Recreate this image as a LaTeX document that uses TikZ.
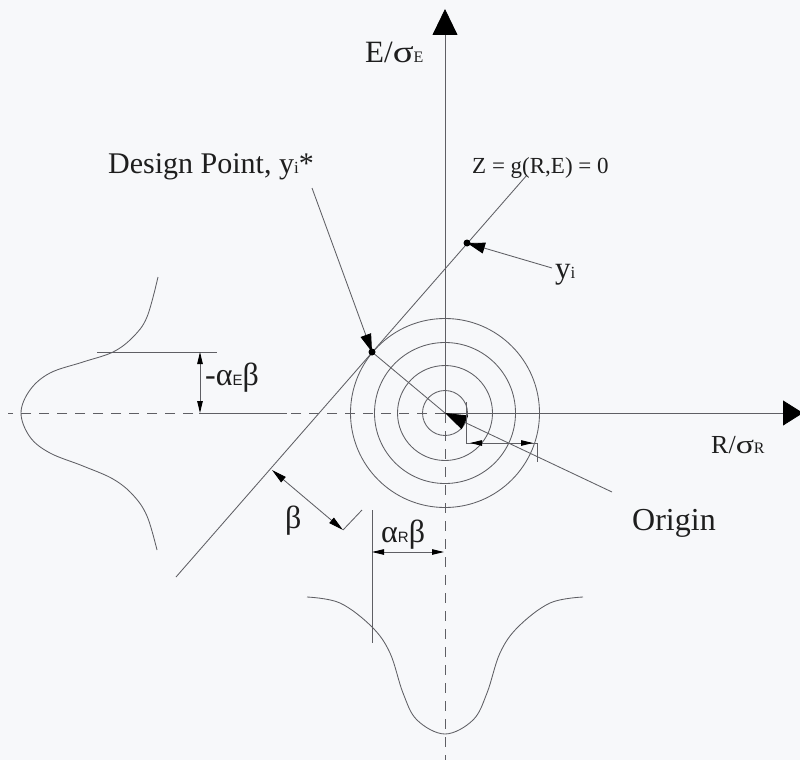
\documentclass[tikz,border=0pt]{standalone}
\usepackage{fontspec}
\setmainfont{Liberation Serif}
\newfontfamily\sansf{Liberation Sans}
\usetikzlibrary{arrows.meta}
\definecolor{bgc}{RGB}{247,248,250}
\definecolor{ln}{RGB}{95,95,100}
\definecolor{txt}{RGB}{30,30,30}
\newcommand{\fs}[1]{\fontsize{#1}{#1}\selectfont}
\begin{document}
\begin{tikzpicture}[x=1pt,y=-1pt,
  lin/.style={draw=ln, line width=0.85pt},
  dsh/.style={lin, dash pattern=on 10pt off 8pt},
  bigtip/.style={-{Triangle[length=18pt,width=11pt,color=black]}},
  dimarr/.style={{Triangle[length=12pt,width=5.5pt,color=black]}-{Triangle[length=12pt,width=5.5pt,color=black]}},
  betaarr/.style={{Triangle[length=15pt,width=7pt,color=black]}-{Triangle[length=15pt,width=7pt,color=black]}},
  lbl/.style={inner sep=0pt, anchor=base west, text=txt}]
\useasboundingbox (0,0) rectangle (800,760);
\fill[bgc] (0,0) rectangle (800,760);

% key points
\coordinate (O) at (445,413);
\coordinate (Etop) at (445,9);
\coordinate (Ebot) at (445,760);
\coordinate (Rright) at (803,413);
\coordinate (Rleft) at (8,413);
\coordinate (DP) at (372,352);
\coordinate (YI) at (467,243);
\coordinate (L1) at (176,577);
\coordinate (L2) at (527,175);

% axes
\draw[dsh] (O) -- (Ebot);
\draw[lin, -{Triangle[length=26pt,width=25pt,color=black]}] (O) -- (Etop);
\draw[dsh] (O) -- (Rleft);
\draw[lin, -{Triangle[length=20pt,width=25pt,color=black]}] (O) -- (Rright);

% concentric circles
\foreach \r in {22.5,47.5,70.5,94.5} \draw[lin] (O) circle[radius=\r];

% limit state line and design point
\draw[lin] (L1) -- (L2);
\draw[lin] (DP) -- (O);
\fill[black] (DP) circle[radius=3.5];
\fill[black] (YI) circle[radius=3.5];

% leaders
\coordinate (DPl) at (312,188);
\draw[lin, bigtip] (DPl) -- (DP);
\coordinate (YIl) at (552,268);
\draw[lin, bigtip] (YIl) -- (YI);
\coordinate (Ol) at (612,492);
\draw[lin, -{Triangle[length=22pt,width=15pt,color=black]}] (Ol) -- (O);

% beta dimension
\coordinate (B1) at (272,470);
\coordinate (B2) at (343,530);
\coordinate (B3) at (362,510);
\draw[lin, betaarr] (B1) -- (B2);
\draw[lin] (B2) -- (B3);

% alpha_R beta dimension
\coordinate (AR1) at (372,510);
\coordinate (AR2) at (372,643);
\coordinate (AR3) at (372,552);
\coordinate (AR4) at (444,552);
\draw[lin] (AR1) -- (AR2);
\draw[lin, dimarr] (AR3) -- (AR4);

% -alpha_E beta dimension
\coordinate (AE1) at (97,352);
\coordinate (AE2) at (217,352);
\coordinate (AE3) at (199,413);
\coordinate (AE4) at (287,413);
\coordinate (AE5) at (200,352);
\coordinate (AE6) at (200,413);
\draw[lin] (AE1) -- (AE2);
\draw[lin] (AE3) -- (AE4);
\draw[lin, dimarr] (AE5) -- (AE6);

% small dimension near origin
\coordinate (S1) at (466,402);
\coordinate (S2) at (466,443);
\coordinate (S3) at (537,443);
\coordinate (S4) at (537,462);
\coordinate (S5) at (470,443);
\coordinate (S6) at (533,443);
\draw[lin] (S1) -- (S2) -- (S3) -- (S4);
\draw[lin, dimarr] (S5) -- (S6);

% distribution curves
\draw[lin] plot[smooth, tension=0.6] coordinates {(158,277) (147,317) (133,337) (113,352) (83,362) (50,373) (30,390) (21,413) (30,437) (50,453) (83,466) (113,479) (133,495) (147,516) (157,550)};
\draw[lin] plot[smooth, tension=0.6] coordinates {(307,597) (340,603) (372,627) (390,653) (403,693) (417,720) (445,734) (473,720) (487,693) (500,653) (518,627) (550,603) (583,597)};

% labels
\node[lbl] (elab) at (365,63) {\fs{31}E/\scalebox{1.25}[1]{σ}{\fs{16}E}};
\node[lbl] (rlab) at (711,453) {\fs{26}R/\scalebox{1.3}[1]{σ}{\fs{16}R}};
\node[lbl] (dplab) at (108,173) {\fs{30}Design Point, y{\fs{17}i}*};
\node[lbl] (zlab) at (472,173) {\fs{23}Z = g(R,E) = 0};
\node[lbl] (yilab) at (555,278) {\fs{31}y{\fs{17}i}};
\node[lbl] (aelab) at (205,385) {\fs{32}-α{\sansf\fs{15}E}β};
\node[lbl] (arlab) at (381,542) {\fs{32}α{\sansf\fs{15}R}β};
\node[lbl] (blab) at (285,528) {\fs{32}β};
\node[lbl] (olab) at (632,530) {\fs{32}Origin};
\end{tikzpicture}
\end{document}
